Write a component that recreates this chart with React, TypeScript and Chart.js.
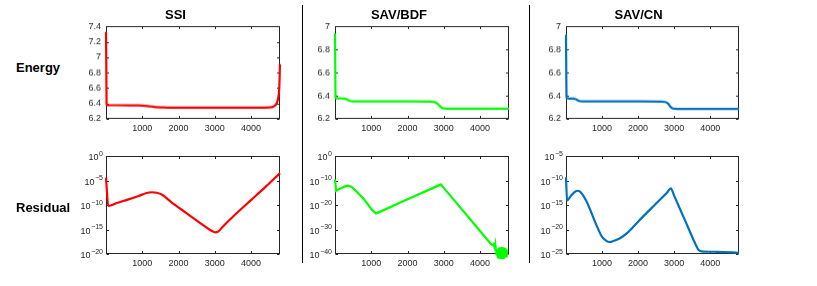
import React, { useEffect, useRef } from 'react';
import { Chart, registerables } from 'chart.js';

Chart.register(...registerables);

// ---------- data ----------
const X_TICKS = [1000, 2000, 3000, 4000];
const X_MIN = 0;
const X_MAX = 4800;

const ENERGY_TICKS_SSI = [6.2, 6.4, 6.6, 6.8, 7, 7.2, 7.4];
const ENERGY_TICKS_SAV = [6.2, 6.4, 6.6, 6.8, 7];
const RES_TICKS_SSI = [1e-20, 1e-15, 1e-10, 1e-5, 1e0];
const RES_TICKS_BDF = [1e-40, 1e-30, 1e-20, 1e-10, 1e0];
const RES_TICKS_CN = [1e-25, 1e-20, 1e-15, 1e-10, 1e-5];

// Energy, SSI
const E_SSI_X = [0, 8, 16, 30, 200, 600, 900, 1000, 1100, 1200, 1300, 1400, 1500, 1600, 1700, 2000, 3000, 4000, 4400, 4500, 4600, 4650, 4700, 4730, 4760, 4780, 4800];
const E_SSI = [7.33, 6.9, 6.39, 6.378, 6.377, 6.376, 6.374, 6.372, 6.368, 6.363, 6.358, 6.353, 6.35, 6.348, 6.347, 6.346, 6.346, 6.346, 6.347, 6.349, 6.356, 6.368, 6.395, 6.43, 6.5, 6.6, 6.91];

// Energy, SAV/BDF
const E_BDF_X = [0, 8, 16, 30, 150, 250, 300, 350, 400, 450, 500, 1000, 2000, 2600, 2700, 2750, 2800, 2850, 2900, 2950, 3000, 3100, 4000, 4800];
const E_BDF = [6.94, 6.6, 6.385, 6.378, 6.377, 6.375, 6.372, 6.365, 6.357, 6.353, 6.352, 6.352, 6.351, 6.35, 6.348, 6.345, 6.338, 6.325, 6.308, 6.295, 6.29, 6.289, 6.289, 6.289];

// Energy, SAV/CN
const E_CN_X = [0, 8, 16, 30, 150, 200, 250, 300, 350, 400, 450, 1000, 2000, 2650, 2750, 2800, 2850, 2900, 2950, 3000, 3100, 4000, 4800];
const E_CN = [6.93, 6.6, 6.385, 6.377, 6.376, 6.375, 6.372, 6.366, 6.358, 6.353, 6.352, 6.352, 6.351, 6.35, 6.346, 6.34, 6.326, 6.305, 6.292, 6.288, 6.287, 6.287, 6.287];

// Residual, SSI
const R_SSI_X = [0, 64, 300, 600, 900, 1100, 1260, 1400, 1550, 1800, 2200, 2600, 2850, 2950, 3020, 3100, 3200, 3600, 4000, 4400, 4800];
const R_SSI = [4e-5, 6.3e-11, 2.5e-10, 1.26e-9, 7.1e-9, 2.5e-8, 4e-8, 3.2e-8, 1.26e-8, 4e-10, 2.8e-12, 2e-14, 1e-15, 4e-16, 2.5e-16, 4e-16, 2.5e-15, 2e-12, 1e-9, 5e-7, 3.2e-4];

// Residual, SAV/BDF (ends in a noisy cluster near 1e-40)
const R_BDF_X = [
  0, 30, 150, 280, 366, 450, 600, 800, 1000, 1129, 1300, 1800, 2300, 2800, 2919, 3000, 3500, 4000, 4300,
  4385, 4395, 4405, 4420, 4430,
  4450, 4460, 4470, 4480, 4490, 4500, 4510, 4520, 4530, 4540, 4550, 4560, 4570, 4580, 4590,
  4600, 4610, 4620, 4630, 4640, 4650, 4660, 4670, 4680, 4690, 4700, 4710, 4720, 4730, 4740, 4750,
];
const R_BDF = [
  3.2e-10, 6.3e-15, 5e-14, 4e-13, 8e-13, 3.2e-13, 2.5e-15, 2.5e-18, 2.5e-22, 3.2e-24, 4e-23, 1e-19, 2e-16, 4e-13, 2.5e-12, 1e-13, 1.6e-22, 2.5e-31, 1.26e-36,
  2.5e-37, 4e-36, 1.6e-38, 3.2e-37, 2.5e-39,
  2e-39, 2.5e-41, 7.1e-39, 1e-41, 1.5e-38, 5e-42, 2.5e-38, 3.2e-42, 3.7e-38, 2.3e-42, 4.8e-38, 1.9e-42, 5.8e-38, 1.7e-42, 6.3e-38,
  1.6e-42, 6.3e-38, 1.7e-42, 5.8e-38, 1.9e-42, 4.8e-38, 2.3e-42, 3.7e-38, 3.2e-42, 2.5e-38, 5e-42, 1.5e-38, 1e-41, 7.1e-39, 2.5e-41, 2e-39,
];

// Residual, SAV/CN
const R_CN_X = [0, 30, 150, 250, 332, 420, 550, 700, 850, 1000, 1100, 1208, 1320, 1500, 1700, 2000, 2500, 2800, 2908, 3000, 3300, 3600, 3680, 3760, 4200, 4800];
const R_CN = [4.5e-10, 8.9e-15, 1e-13, 5e-13, 8e-13, 3.2e-13, 1e-14, 3.2e-17, 6.3e-20, 3.2e-22, 6.3e-23, 2.8e-23, 4.5e-23, 1.6e-22, 2e-21, 4e-19, 2e-15, 3.2e-13, 2.5e-12, 8e-14, 8e-19, 8e-24, 6.3e-25, 3.5e-25, 2.8e-25, 1.8e-25];

const COLUMN_TITLES = ['SSI', 'SAV/BDF', 'SAV/CN'];
const ROW_LABELS = ['Energy', 'Residual'];

// ---------- layout / style ----------
const FONT = '"Liberation Sans", Arial, Helvetica, sans-serif';
const AXIS_COLOR = '#262626';
const TICK_SIZE = 9;
const EXP_SIZE = 7;
const PAD_L = 45;
const PAD_T = 6;
const PAD_R = 6;
const PAD_B = 18;

const COL_LEFT = [106, 335, 566];
const COL_W = [174, 174, 173];
const ROW_TOP = [22, 156];
const ROW_H = [96.5, 98];
const TITLE_CX = [175.5, 399, 638.5];

type Spec = {
  col: number;
  row: number;
  xs: number[];
  ys: number[];
  color: string;
  log: boolean;
  smooth: boolean;
  yMin: number;
  yMax: number;
  yTicks: number[];
};

const makeBoxPlugin = (spec: Spec) => ({
  id: 'matlabBox',
  beforeDatasetsDraw(chart: any) {
    const { ctx, chartArea: a, scales } = chart;
    ctx.save();
    ctx.strokeStyle = AXIS_COLOR;
    ctx.lineWidth = 1;
    const l = Math.round(a.left) + 0.5;
    const r = Math.round(a.right) - 0.5;
    const t = Math.round(a.top) + 0.5;
    const b = Math.round(a.bottom) - 0.5;
    ctx.strokeRect(l, t, r - l, b - t);
    const L = 2.5;
    ctx.beginPath();
    scales.x.ticks.forEach((tk: any) => {
      const px = Math.round(scales.x.getPixelForValue(tk.value)) + 0.5;
      ctx.moveTo(px, b); ctx.lineTo(px, b - L);
      ctx.moveTo(px, t); ctx.lineTo(px, t + L);
    });
    scales.y.ticks.forEach((tk: any) => {
      const py = Math.round(scales.y.getPixelForValue(tk.value)) + 0.5;
      ctx.moveTo(l, py); ctx.lineTo(l + L, py);
      ctx.moveTo(r, py); ctx.lineTo(r - L, py);
    });
    ctx.stroke();

    // power-of-ten labels with a raised exponent on log axes
    if (spec.log) {
      ctx.fillStyle = AXIS_COLOR;
      ctx.textAlign = 'left';
      ctx.textBaseline = 'alphabetic';
      scales.y.ticks.forEach((tk: any) => {
        const e = Math.round(Math.log10(tk.value));
        const expStr = e < 0 ? '\u2212' + Math.abs(e) : String(e);
        ctx.font = `${TICK_SIZE}px ${FONT}`;
        const wb = ctx.measureText('10').width;
        ctx.font = `${EXP_SIZE}px ${FONT}`;
        const we = ctx.measureText(expStr).width;
        const py = scales.y.getPixelForValue(tk.value);
        const x0 = a.left - 3 - we - wb - 0.5;
        ctx.font = `${TICK_SIZE}px ${FONT}`;
        ctx.fillText('10', x0, py + 4.3);
        ctx.font = `${EXP_SIZE}px ${FONT}`;
        ctx.fillText(expStr, x0 + wb + 0.5, py - 0.3);
      });
    }
    ctx.restore();
  },
});

function Panel({ spec }: { spec: Spec }) {
  const ref = useRef<HTMLCanvasElement>(null);
  const w = COL_W[spec.col] + PAD_L + PAD_R;
  const h = ROW_H[spec.row] + PAD_T + PAD_B;
  const left = COL_LEFT[spec.col] - PAD_L;
  const top = ROW_TOP[spec.row] - PAD_T;

  useEffect(() => {
    const tickFont = { family: FONT, size: TICK_SIZE };
    const chart = new Chart(ref.current as HTMLCanvasElement, {
      type: 'line',
      data: {
        datasets: [
          {
            data: spec.xs.map((x, i) => ({ x, y: spec.ys[i] })),
            borderColor: spec.color,
            borderWidth: 2.2,
            pointRadius: 0,
            tension: 0,
            cubicInterpolationMode: spec.smooth ? 'monotone' : 'default',
            fill: false,
            clip: 5,
          } as any,
        ],
      },
      options: {
        responsive: false,
        animation: false,
        devicePixelRatio: 1,
        events: [],
        layout: { padding: { left: 0, top: PAD_T, right: PAD_R, bottom: 0 } },
        plugins: { legend: { display: false }, tooltip: { enabled: false }, title: { display: false } },
        scales: {
          x: {
            type: 'linear',
            min: X_MIN,
            max: X_MAX,
            grid: { display: false, drawTicks: false },
            border: { display: false },
            ticks: {
              font: tickFont,
              color: AXIS_COLOR,
              padding: 4,
              maxRotation: 0,
              autoSkip: false,
              callback: (v: any) => String(v),
            },
            afterBuildTicks: (s: any) => { s.ticks = X_TICKS.map((v) => ({ value: v })); },
            afterFit: (s: any) => { s.height = PAD_B; },
          },
          y: {
            type: spec.log ? 'logarithmic' : 'linear',
            min: spec.yMin,
            max: spec.yMax,
            grid: { display: false, drawTicks: false },
            border: { display: false },
            ticks: {
              display: !spec.log,
              font: tickFont,
              color: AXIS_COLOR,
              padding: 5,
              autoSkip: false,
              callback: (v: any) => String(Math.round(Number(v) * 10) / 10),
            },
            afterBuildTicks: (s: any) => { s.ticks = spec.yTicks.map((v) => ({ value: v })); },
            afterFit: (s: any) => { s.width = PAD_L; },
          },
        } as any,
      },
      plugins: [makeBoxPlugin(spec)],
    } as any);
    return () => chart.destroy();
  }, []);

  return (
    <canvas
      ref={ref}
      width={w}
      height={h}
      style={{ position: 'absolute', left, top, width: w, height: h }}
    />
  );
}

const RED = '#ff0000';
const GREEN = '#00ff00';
const BLUE = '#0072bd';

const SPECS: Spec[] = [
  { col: 0, row: 0, xs: E_SSI_X, ys: E_SSI, color: RED, log: false, smooth: true, yMin: 6.2, yMax: 7.4, yTicks: ENERGY_TICKS_SSI },
  { col: 1, row: 0, xs: E_BDF_X, ys: E_BDF, color: GREEN, log: false, smooth: true, yMin: 6.2, yMax: 7, yTicks: ENERGY_TICKS_SAV },
  { col: 2, row: 0, xs: E_CN_X, ys: E_CN, color: BLUE, log: false, smooth: true, yMin: 6.2, yMax: 7, yTicks: ENERGY_TICKS_SAV },
  { col: 0, row: 1, xs: R_SSI_X, ys: R_SSI, color: RED, log: true, smooth: true, yMin: 1e-20, yMax: 1, yTicks: RES_TICKS_SSI },
  { col: 1, row: 1, xs: R_BDF_X, ys: R_BDF, color: GREEN, log: true, smooth: false, yMin: 1e-40, yMax: 1, yTicks: RES_TICKS_BDF },
  { col: 2, row: 1, xs: R_CN_X, ys: R_CN, color: BLUE, log: true, smooth: true, yMin: 1e-25, yMax: 1e-5, yTicks: RES_TICKS_CN },
];

export default function App() {
  const bold: React.CSSProperties = {
    position: 'absolute',
    font: `bold 13px ${FONT}`,
    lineHeight: '15px',
    color: '#000',
    whiteSpace: 'nowrap',
  };
  return (
    <div style={{ position: 'absolute', left: 0, top: 0, width: 817, height: 286, background: '#fff', overflow: 'hidden' }}>
      {SPECS.map((s, i) => (
        <Panel key={i} spec={s} />
      ))}
      {COLUMN_TITLES.map((t, i) => (
        <div key={t} style={{ ...bold, left: TITLE_CX[i] - 60, width: 120, textAlign: 'center', top: 7 }}>
          {t}
        </div>
      ))}
      <div style={{ ...bold, left: 16, top: 60 }}>{ROW_LABELS[0]}</div>
      <div style={{ ...bold, left: 16, top: 200 }}>{ROW_LABELS[1]}</div>
      <div style={{ position: 'absolute', left: 302, top: 5, width: 1, height: 258, background: '#000' }} />
      <div style={{ position: 'absolute', left: 529, top: 5, width: 1, height: 258, background: '#000' }} />
    </div>
  );
}
